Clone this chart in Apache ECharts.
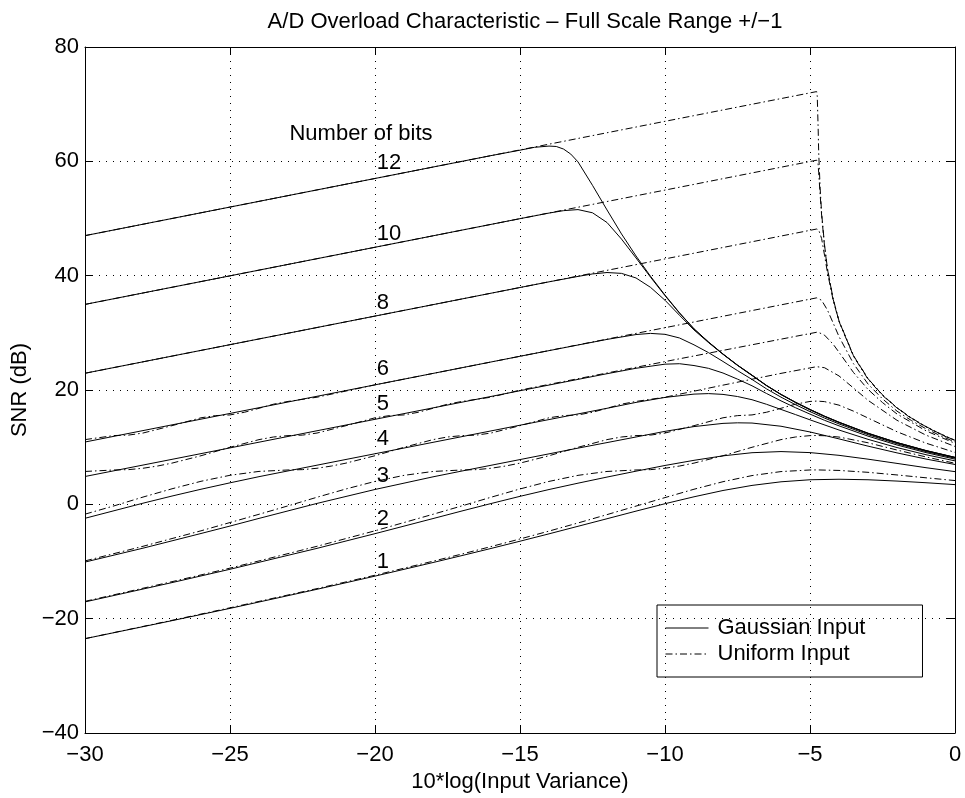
<!DOCTYPE html>
<html><head><meta charset="utf-8">
<script src="https://cdn.jsdelivr.net/npm/echarts@6/dist/echarts.min.js"></script>
<style>html,body{margin:0;padding:0;background:#fff}#c{width:965px;height:798px}</style>
</head><body><div id="c"></div><script>
// Gaussian input (solid) curves, [x, SNR]
const g1 = [[-30,-23.5],[-27,-20.35],[-25,-18.2],[-22,-14.86],[-20,-12.56],[-18,-10.18],[-17,-8.96],[-16,-7.72],[-15,-6.45],[-14,-5.16],[-13,-3.84],[-12,-2.52],[-11,-1.19],[-10,0.11],[-9,1.32],[-8,2.42],[-7,3.31],[-6,3.94],[-5,4.3],[-4,4.39],[-3,4.3],[-2,4.07],[-1,3.78],[0,3.45]];
const g2 = [[-30,-17.07],[-27,-13.69],[-25,-11.36],[-22,-7.7],[-20,-5.13],[-18,-2.49],[-17,-1.16],[-16,0.14],[-15,1.4],[-14,2.59],[-13,3.7],[-12,4.77],[-11,5.8],[-10,6.8],[-9,7.7],[-8,8.48],[-7,9.03],[-6,9.23],[-5,9.05],[-4,8.57],[-3,7.9],[-2,7.16],[-1,6.41],[0,5.72]];
const g3 = [[-30,-10.1],[-28,-7.67],[-26,-5.1],[-25,-3.8],[-24,-2.46],[-22,0.16],[-20,2.6],[-18,4.81],[-17,5.83],[-15,7.83],[-13,9.83],[-12,10.8],[-11,11.78],[-10,12.77],[-9,13.6],[-8,14.16],[-7.5,14.26],[-7,14.22],[-6,13.66],[-5,12.66],[-4,11.45],[-3,10.18],[-2,9.0],[-1,7.92],[0,6.97]];
const g4 = [[-30,-2.44],[-28,0.2],[-27,1.45],[-26,2.64],[-25,3.76],[-24,4.84],[-22,6.85],[-20,8.85],[-15,13.84],[-12,16.8],[-11,17.83],[-10,18.7],[-9,19.28],[-8.5,19.37],[-8,19.23],[-7.5,18.86],[-7,18.3],[-6.5,17.5],[-6,16.6],[-5.5,15.7],[-5,14.78],[-4,13.0],[-3,11.37],[-2,9.93],[-1,8.68],[0,7.6]];
const g5 = [[-30,4.87],[-20,14.87],[-15,19.87],[-12,22.85],[-11,23.8],[-10,24.52],[-9.5,24.6],[-9,24.28],[-8.5,23.79],[-8,22.97],[-7.5,21.9],[-7,20.74],[-6.5,19.39],[-6,18.1],[-5.5,16.9],[-5,15.78],[-4.5,14.7],[-4,13.73],[-3,11.93],[-2,10.38],[-1,9.05],[0,7.9]];
const g6 = [[-30,10.9],[-20,20.9],[-15,25.9],[-13,27.87],[-12,28.85],[-11,29.7],[-10.5,29.9],[-10,29.74],[-9.5,29.1],[-9,27.9],[-8.5,26.54],[-8,24.99],[-7.5,23.39],[-7,21.85],[-6.5,20.2],[-6,18.75],[-5.5,17.43],[-5,16.22],[-4.5,15.09],[-4,14.07],[-3,12.19],[-2,10.6],[-1,9.23],[0,8.07]];
const g8 = [[-30,22.93],[-20,32.93],[-15,37.93],[-14,38.92],[-13,39.87],[-12.5,40.3],[-12,40.55],[-11.5,40.4],[-11,39.6],[-10.5,37.96],[-10,35.7],[-9.5,33.07],[-9,30.5],[-8.5,28.3],[-8,26.24],[-7.5,24.3],[-7,22.53],[-6.5,20.75],[-6,19.19],[-5.5,17.8],[-5,16.52],[-4.5,15.36],[-4,14.3],[-3,12.38],[-2,10.76],[-1,9.37],[0,8.18]];
const g10 = [[-30,34.97],[-20,44.97],[-15,49.97],[-14,50.95],[-13.5,51.37],[-13,51.56],[-12.5,51.0],[-12,49.3],[-11.5,46.4],[-11,43.1],[-10.5,39.75],[-10,36.5],[-9.5,33.45],[-9,30.68],[-8.5,28.38],[-8,26.28],[-7.5,24.34],[-7,22.59],[-6.5,20.79],[-6,19.23],[-5.5,17.85],[-5,16.59],[-4.5,15.42],[-4,14.36],[-3,12.43],[-2,10.8],[-1,9.4],[0,8.21]];
const g12 = [[-30,47.0],[-20,57.0],[-16,61.0],[-15,61.95],[-14.5,62.45],[-14,62.67],[-13.75,62.6],[-13.5,62.15],[-13.25,61.27],[-13,59.9],[-12.5,55.8],[-12,51.5],[-11.5,47.3],[-11,43.45],[-10.5,39.9],[-10,36.6],[-9.5,33.5],[-9,30.7],[-8.5,28.4],[-8,26.3],[-7.5,24.35],[-7,22.6],[-6.5,20.8],[-6,19.24],[-5.5,17.86],[-5,16.6],[-4.5,15.43],[-4,14.37],[-3,12.44],[-2,10.81],[-1,9.41],[0,8.22]];

// Uniform input (dash-dot) curves, [x, SNR]
const u1 = [[-30,-23.5],[-27,-20.29],[-25,-18.1],[-22,-14.74],[-20,-12.4],[-18,-9.95],[-17,-8.69],[-16,-7.39],[-15,-6.06],[-14,-4.68],[-13,-3.26],[-12,-1.8],[-11,-0.31],[-10,1.18],[-9,2.64],[-8,3.96],[-7,5.03],[-6,5.73],[-5,6.01],[-4.77,6.02],[-4,5.93],[-3,5.6],[-2,5.14],[-1,4.64],[0,4.16]];
const u2 = [[-30,-16.97],[-27,-13.53],[-25,-11.16],[-24,-9.9],[-22,-7.34],[-20,-4.63],[-18,-1.74],[-17,-0.27],[-16,1.24],[-15,2.69],[-14,4.01],[-13,5.07],[-12,5.75],[-11,6.01],[-10.5,6.07],[-10,6.31],[-9.5,6.7],[-9,7.21],[-8,8.5],[-7,9.98],[-6,11.32],[-5.5,11.78],[-5,12.02],[-4.77,12.04],[-4.5,12.0],[-4,11.77],[-3,10.77],[-2,9.5],[-1,8.29],[0,7.18]];
const u3 = [[-30,-9.9],[-28,-7.34],[-26,-4.63],[-24,-1.74],[-23,-0.27],[-22,1.24],[-21,2.69],[-20,4.01],[-19,5.07],[-18,5.75],[-17,6.01],[-16.5,6.07],[-16,6.31],[-15.5,6.7],[-15,7.21],[-14,8.5],[-13,9.98],[-12,11.32],[-11.5,11.78],[-11,12.02],[-10.5,12.11],[-10,12.47],[-9,13.76],[-8,15.14],[-7.5,15.52],[-7,15.64],[-6.5,16.11],[-6,16.8],[-5.5,17.52],[-5,18.0],[-4.77,18.06],[-4.5,17.97],[-4,17.35],[-3.5,16.3],[-3,15.1],[-2,12.7],[-1,10.7],[0,9.08]];
const u4 = [[-30,-1.72],[-29,-0.27],[-28,1.27],[-27,2.72],[-26,4.03],[-25,5.08],[-24,5.76],[-23,6.01],[-22.5,6.07],[-22,6.31],[-21.5,6.7],[-21,7.21],[-20,8.5],[-19,9.98],[-18,11.32],[-17.5,11.78],[-17,12.02],[-16.5,12.11],[-16,12.47],[-15,13.76],[-14,15.14],[-13.5,15.52],[-13,15.64],[-12.5,16.11],[-12,16.8],[-11.5,17.52],[-11,18.0],[-10,18.74],[-8,20.85],[-6,22.91],[-4.77,24.08],[-4.5,23.9],[-4,22.46],[-3.5,20.35],[-3,18.2],[-2,14.7],[-1,12.1],[0,10.12]];
const u5 = [[-30,5.75],[-29,6.01],[-28.5,6.07],[-28,6.31],[-27.5,6.7],[-27,7.21],[-26,8.5],[-25,9.98],[-24,11.32],[-23.5,11.78],[-23,12.02],[-22.5,12.11],[-22,12.47],[-21,13.76],[-20,15.14],[-19.5,15.52],[-19,15.64],[-18.5,16.11],[-18,16.8],[-17.5,17.52],[-17,18.0],[-16,18.74],[-15,19.98],[-10,24.97],[-4.77,30.1],[-4.7,30.06],[-4.5,29.6],[-4.2,28.0],[-4,26.6],[-3.5,23.06],[-3,20.1],[-2.5,17.8],[-2,15.8],[-1,12.86],[0,10.67]];
const u6 = [[-30,11.32],[-29,12.03],[-28.5,12.11],[-28,12.47],[-27,13.76],[-26,15.14],[-25.5,15.52],[-25,15.64],[-24.5,16.11],[-24,16.8],[-23.5,17.52],[-23,18.0],[-22,18.74],[-20,20.9],[-10,30.9],[-4.77,36.12],[-4.6,35.7],[-4.4,34.0],[-4.2,31.7],[-4,29.35],[-3.5,24.6],[-3,21.05],[-2.5,18.45],[-2,16.3],[-1.5,14.65],[-1,13.22],[-0.5,12.0],[0,10.9]];
const u8 = [[-30,22.93],[-20,32.93],[-10,42.93],[-4.77,48.16],[-4.7,48.0],[-4.6,46.5],[-4.5,43.6],[-4.4,40.6],[-4.2,35.7],[-4,32.0],[-3.5,25.9],[-3,21.9],[-2.5,19.05],[-2,16.85],[-1.5,15.0],[-1,13.55],[-0.5,12.25],[0,11.15]];
const u10 = [[-30,34.97],[-20,44.97],[-10,54.97],[-4.77,60.2],[-4.75,60.15],[-4.72,59.45],[-4.7,58.0],[-4.65,54.15],[-4.6,50.6],[-4.5,45.2],[-4.4,41.2],[-4.2,35.85],[-4,32.05],[-3.5,25.98],[-3,21.98],[-2.5,19.13],[-2,16.88],[-1.5,15.08],[-1,13.58],[-0.5,12.31],[0,11.18]];
const u12 = [[-30,47.0],[-20,57.0],[-10,67.0],[-4.77,72.2],[-4.75,71.4],[-4.72,66.0],[-4.7,61.5],[-4.65,55.3],[-4.6,51.0],[-4.5,45.4],[-4.4,41.3],[-4.2,35.9],[-4,32.1],[-3.5,26.0],[-3,22.0],[-2.5,19.15],[-2,16.9],[-1.5,15.1],[-1,13.6],[-0.5,12.33],[0,11.2]];

// Text annotations: [x, y, text]
const bitLabels = [[-22.95,64.8,'Number of bits'],[-19.94,59.7,'12'],[-19.94,47.3,'10'],[-19.94,35.3,'8'],[-19.94,23.6,'6'],[-19.94,17.55,'5'],[-19.94,11.4,'4'],[-19.94,5.05,'3'],[-19.94,-2.55,'2'],[-19.94,-10.0,'1']];

const gaussSet = [g1,g2,g3,g4,g5,g6,g8,g10,g12];
const uniSet = [u1,u2,u3,u4,u5,u6,u8,u10,u12];

const FONT = '"Liberation Sans", Arial, Helvetica, sans-serif';
const fmt = v => (v < 0 ? '\u2212' + Math.abs(v) : String(v));
const txt = {color:'#000', fontFamily:FONT, fontSize:22};

const series = [];
gaussSet.forEach(d => series.push({
  name:'Gaussian Input', type:'line', data:d, showSymbol:false, symbol:'none',
  lineStyle:{color:'#000', width:1}, itemStyle:{color:'#000'}, silent:true, animation:false, z:3
}));
uniSet.forEach(d => series.push({
  name:'Uniform Input', type:'line', data:d, showSymbol:false, symbol:'none',
  lineStyle:{color:'#000', width:1, type:[7,3,1.5,3]}, itemStyle:{color:'#000'}, silent:true, animation:false, z:3
}));
series.push({
  type:'scatter', data:bitLabels, symbolSize:0, silent:true, animation:false,
  encode:{x:0, y:1}, itemStyle:{opacity:1, color:'#000'},
  label:{show:true, position:'right', distance:0, opacity:1, formatter:p => p.value[2], ...txt}
});

const baseAxis = {
  type:'value',
  axisLine:{show:true, onZero:false, lineStyle:{color:'#000', width:1}},
  axisTick:{show:true, inside:true, length:8, lineStyle:{color:'#000', width:1}},
};

const chart = echarts.init(document.getElementById('c'), null, {renderer:'canvas'});
chart.setOption({
  backgroundColor:'#fff',
  animation:false,
  title:{text:'A/D Overload Characteristic \u2013 Full Scale Range +/\u22121', left:520, textAlign:'center', top:6,
    textStyle:{...txt, fontWeight:'normal'}},
  grid:{left:85, right:10, top:47, bottom:65, containLabel:false},
  legend:{
    orient:'vertical', left:657, top:605, data:['Gaussian Input','Uniform Input'],
    itemWidth:43, itemHeight:14, itemGap:4, padding:[12,57,12,8],
    borderColor:'#000', borderWidth:1, backgroundColor:'transparent',
    itemStyle:{opacity:0}, lineStyle:{width:1},
    selectedMode:false, textStyle:{...txt, padding:[0,0,0,4], lineHeight:22}
  },
  xAxis:[
    {...baseAxis, position:'bottom', min:-30, max:0, interval:5,
      axisLabel:{...txt, margin:11, formatter:fmt},
      splitLine:{show:true, lineStyle:{color:'#000', width:1, type:[1,6]}},
      name:'10*log(Input Variance)', nameLocation:'middle', nameGap:32, nameTextStyle:{...txt}},
    {...baseAxis, position:'top', min:-30, max:0, interval:5, axisLabel:{show:false}, splitLine:{show:false}}
  ],
  yAxis:[
    {...baseAxis, position:'left', min:-40, max:80, interval:20,
      axisLabel:{...txt, margin:6, formatter:fmt},
      splitLine:{show:true, lineStyle:{color:'#000', width:1, type:[1,6]}},
      name:'SNR (dB)', nameLocation:'middle', nameGap:46, nameTextStyle:{...txt}},
    {...baseAxis, position:'right', min:-40, max:80, interval:20, axisLabel:{show:false}, splitLine:{show:false}}
  ],
  series
});
</script></body></html>
